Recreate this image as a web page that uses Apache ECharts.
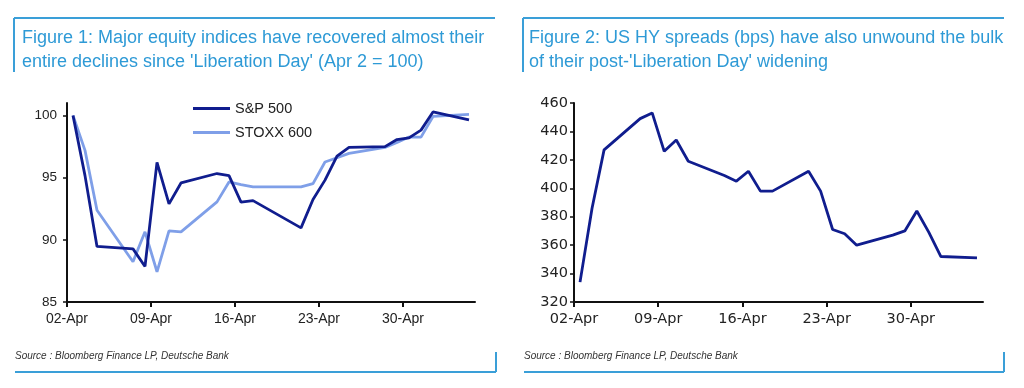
<!DOCTYPE html>
<html>
<head>
<meta charset="utf-8">
<script src="https://cdn.jsdelivr.net/npm/echarts@6/dist/echarts.min.js"></script>
<style>
html,body{margin:0;padding:0;background:#fff;}
#c{width:1024px;height:388px;}
</style>
</head>
<body>
<div id="c"></div>
<script>
// ---- Data ----
const eqDates = ['2025-04-02','2025-04-03','2025-04-04','2025-04-07','2025-04-08','2025-04-09','2025-04-10','2025-04-11','2025-04-14','2025-04-15','2025-04-16','2025-04-17','2025-04-21','2025-04-22','2025-04-23','2025-04-24','2025-04-25','2025-04-28','2025-04-29','2025-04-30','2025-05-01','2025-05-02','2025-05-05'];
const spx = [100, 95.16, 89.47, 89.27, 87.86, 96.22, 92.89, 94.57, 95.33, 95.16, 93.03, 93.15, 90.96, 93.24, 94.80, 96.72, 97.43, 97.49, 98.06, 98.20, 98.82, 100.28, 99.64];
const stoxx = [100, 97.19, 92.38, 88.24, 90.64, 87.43, 90.72, 90.64, 93.05, 94.65, 94.44, 94.25, 94.25, 94.52, 96.26, 96.60, 96.95, 97.43, 97.83, 98.26, 98.26, 99.92, 100.08];
const hyDates = ['2025-04-02','2025-04-03','2025-04-04','2025-04-07','2025-04-08','2025-04-09','2025-04-10','2025-04-11','2025-04-14','2025-04-15','2025-04-16','2025-04-17','2025-04-18','2025-04-21','2025-04-22','2025-04-23','2025-04-24','2025-04-25','2025-04-28','2025-04-29','2025-04-30','2025-05-01','2025-05-02','2025-05-05'];
const hySpread = [334, 386, 427, 449, 453, 426, 434, 419, 409, 405, 412, 398, 398, 412, 398, 371, 368, 360, 367, 370, 384, 369, 352, 351];
const xTickDays = [0, 7, 14, 21, 28]; // 02-Apr, 09-Apr, 16-Apr, 23-Apr, 30-Apr
const eqTicks = [85, 90, 95, 100];
const hyTicks = [320, 340, 360, 380, 400, 420, 440, 460];
const seriesNames = ['S&P 500', 'STOXX 600', 'US HY spread'];
const titles = [
  "Figure 1: Major equity indices have recovered almost their\nentire declines since 'Liberation Day' (Apr 2 = 100)",
  "Figure 2: US HY spreads (bps) have also unwound the bulk\nof their post-'Liberation Day' widening"
];
const sourceText = 'Source : Bloomberg Finance LP, Deutsche Bank';

// ---- Helpers ----
const BASE = Date.UTC(2025, 3, 2);
const DAY = 864e5;
const MONTHS = ['Jan','Feb','Mar','Apr','May','Jun','Jul','Aug','Sep','Oct','Nov','Dec'];
function dayOf(s) { const p = s.split('-'); return (Date.UTC(+p[0], +p[1]-1, +p[2]) - BASE) / DAY; }
function fmtDay(v) { const d = new Date(BASE + v * DAY); return String(d.getUTCDate()).padStart(2,'0') + '-' + MONTHS[d.getUTCMonth()]; }
function pairs(dates, vals) { return dates.map((d, i) => [dayOf(d) + 0.5, vals[i]]); }

const FONT = 'Arial, "Liberation Sans", sans-serif';
const WIDE = '"DejaVu Sans", Verdana, sans-serif';
const BLUE = '#3a9fd8';
const TITLE_BLUE = '#2e9ad6';
const DARK = '#101d8e';
const LIGHT = '#7f9fe8';
const AX = '#111';

function xAxis(gi, font, size) {
  return {
    type: 'value', gridIndex: gi, min: 0, max: 34,
    axisLine: { show: true, onZero: false, lineStyle: { color: AX, width: 2 } },
    axisTick: { show: true, length: 5, lineStyle: { color: AX, width: 2 }, customValues: xTickDays },
    axisLabel: { color: '#222', fontSize: size, fontFamily: font, margin: 10, formatter: fmtDay, customValues: xTickDays },
    splitLine: { show: false }
  };
}
function yAxis(gi, min, max, ticks, margin, font, size) {
  return {
    type: 'value', gridIndex: gi, min: min, max: max,
    axisLine: { show: true, lineStyle: { color: AX, width: 2 } },
    axisTick: { show: true, length: 4, lineStyle: { color: AX, width: 1.5 }, customValues: ticks },
    axisLabel: { color: '#222', fontSize: size, fontFamily: font, margin: margin, customValues: ticks },
    splitLine: { show: false }
  };
}

const chart = echarts.init(document.getElementById('c'), null, { renderer: 'canvas' });
const lines = [
  // left box
  [14, 18, 495, 18], [14, 18, 14, 72], [15, 372, 496, 372], [496, 352, 496, 372],
  // right box
  [523, 18, 1004, 18], [523, 18, 523, 72], [524, 372, 1004, 372], [1004, 352, 1004, 372]
];
chart.setOption({
  animation: false,
  backgroundColor: '#fff',
  title: [
    { text: titles[0], left: 22, top: 26, padding: 0, textStyle: { color: TITLE_BLUE, fontSize: 18, fontWeight: 'normal', fontFamily: FONT, lineHeight: 24 } },
    { text: titles[1], left: 529, top: 26, padding: 0, textStyle: { color: TITLE_BLUE, fontSize: 18, fontWeight: 'normal', fontFamily: FONT, lineHeight: 24 } }
  ],
  legend: {
    data: [seriesNames[0], seriesNames[1]],
    orient: 'vertical', left: 193, top: 101, padding: 0,
    itemWidth: 37, itemHeight: 3, itemGap: 9, itemTextGap: 1,
    icon: 'rect',
    textStyle: { color: '#222', fontSize: 14.5, fontFamily: FONT }
  },
  grid: [
    { left: 67, right: 549, top: 103, bottom: 86 },
    { left: 574, right: 41, top: 103, bottom: 86 }
  ],
  xAxis: [xAxis(0, FONT, 14), xAxis(1, WIDE, 14.5)],
  yAxis: [yAxis(0, 85, 101, eqTicks, 10, FONT, 13.5), yAxis(1, 320, 460, hyTicks, 6, WIDE, 14.5)],
  series: [
    { name: seriesNames[1], type: 'line', xAxisIndex: 0, yAxisIndex: 0, data: pairs(eqDates, stoxx), showSymbol: false, lineStyle: { color: LIGHT, width: 2.8 }, itemStyle: { color: LIGHT } },
    { name: seriesNames[0], type: 'line', xAxisIndex: 0, yAxisIndex: 0, data: pairs(eqDates, spx), showSymbol: false, lineStyle: { color: DARK, width: 2.8 }, itemStyle: { color: DARK } },
    { name: seriesNames[2], type: 'line', xAxisIndex: 1, yAxisIndex: 1, data: pairs(hyDates, hySpread), showSymbol: false, lineStyle: { color: DARK, width: 2.8 }, itemStyle: { color: DARK } }
  ],
  graphic: lines.map(l => ({ type: 'line', shape: { x1: l[0], y1: l[1], x2: l[2], y2: l[3] }, style: { stroke: BLUE, lineWidth: 2 }, silent: true }))
    .concat([
      { type: 'text', left: 15, top: 351, style: { text: sourceText, fill: '#333', font: 'italic 10px ' + FONT } },
      { type: 'text', left: 524, top: 351, style: { text: sourceText, fill: '#333', font: 'italic 10px ' + FONT } }
    ])
});
</script>
</body>
</html>
